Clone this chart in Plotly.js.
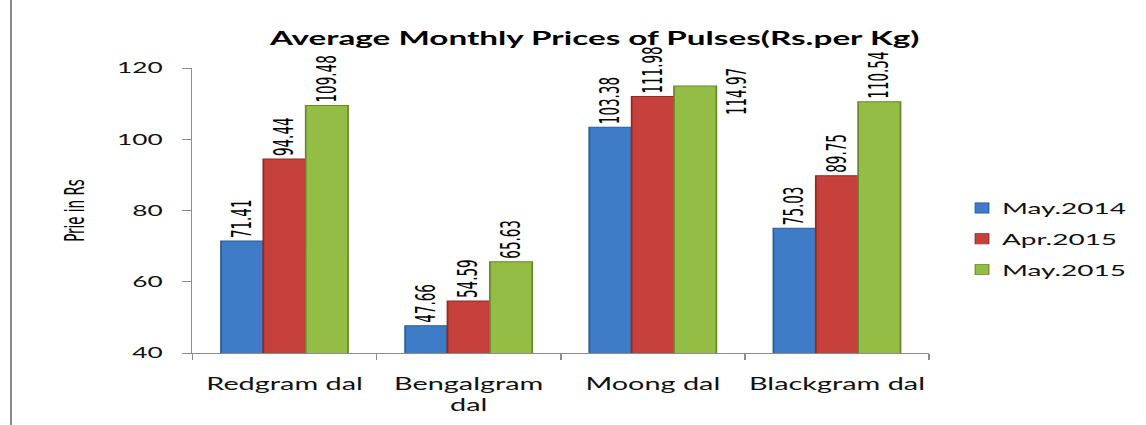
<!DOCTYPE html>
<html><head><meta charset="utf-8">
<script src="https://cdn.plot.ly/plotly-3.0.1.min.js"></script>
<style>
html,body{margin:0;padding:0;background:#fff;overflow:hidden;}
#frame{position:absolute;left:0;top:0;width:1146px;height:425px;overflow:hidden;background:#fff;}
#edge{position:absolute;left:10px;top:0;width:2px;height:425px;background:#8a8a8a;}
#chart{position:absolute;left:0;top:0;width:655px;height:425px;transform:scaleX(1.7496);transform-origin:0 0;}
#chart .legendpoints path{transform:translate(28.6px,0) scale(0.65,0.85) !important;}
</style></head>
<body><div id="frame"><div id="chart"></div><div id="edge"></div></div>
<script>
// ---- data ----
const categories = ['Redgram dal', 'Bengalgram dal', 'Moong dal', 'Blackgram dal'];
const categoryLabels = ['Redgram dal', 'Bengalgram<br>dal', 'Moong dal', 'Blackgram dal'];
const seriesNames = ['May.2014', 'Apr.2015', 'May.2015'];
const may2014 = [71.41, 47.66, 103.38, 75.03];
const apr2015 = [94.44, 54.59, 111.98, 89.75];
const may2015 = [109.48, 65.63, 114.97, 110.54];
const yTickVals = [40, 60, 80, 100, 120];
const chartTitle = 'Average Monthly Prices of Pulses(Rs.per Kg)';
const yTitle = 'Prie in Rs';
// the May.2015 Moong dal label sits detached to the right of its bar in the source
const detachedLabel = {series: 2, index: 2};

// ---- style ----
const fills = ['#3f7cc7', '#c6403c', '#93bd45'];
const edges = ['#2b5a97', '#8e2a27', '#67882d'];
const labelFont = {family: 'Liberation Sans Narrow, DejaVu Sans Condensed, sans-serif', size: 15, color: '#000'};
const mainFont = 'Lato, Open Sans, sans-serif';

const seriesValues = [may2014, apr2015, may2015];
const traces = seriesValues.map((vals, s) => ({
  type: 'bar',
  name: seriesNames[s],
  legendgroup: 'g' + s,
  x: categories,
  y: vals,
  text: vals.map((v, i) => (s === detachedLabel.series && i === detachedLabel.index) ? '' : v.toFixed(2)),
  textposition: 'outside',
  textangle: -90,
  textfont: labelFont,
  constraintext: 'none',
  cliponaxis: false,
  marker: {color: fills[s], line: {color: edges[s], width: 1}},
  hoverinfo: 'x+y+name'
}));

const dv = seriesValues[detachedLabel.series][detachedLabel.index];
const layout = {
  width: 655, height: 425,
  margin: {l: 110, r: 124, t: 68, b: 72, autoexpand: false},
  paper_bgcolor: '#fff', plot_bgcolor: '#fff',
  barmode: 'group', bargap: 0.31, bargroupgap: 0,
  font: {family: mainFont, color: '#111'},
  title: {
    text: '<b>' + chartTitle + '</b>',
    font: {family: mainFont, size: 19, color: '#000'},
    xref: 'paper', x: 0.546, xanchor: 'center',
    yref: 'container', y: 0.91, yanchor: 'middle'
  },
  xaxis: {
    type: 'category',
    tickmode: 'array', tickvals: categories, ticktext: categoryLabels,
    tickangle: 0, automargin: false,
    showline: true, linecolor: '#8c8c8c', linewidth: 1,
    ticks: 'outside', tickson: 'boundaries', ticklen: 6, tickcolor: '#8c8c8c',
    ticklabelstandoff: 16,
    tickfont: {family: mainFont, size: 16.5, color: '#111'},
    showgrid: false, zeroline: false, fixedrange: true
  },
  yaxis: {
    range: [40, 120], tickmode: 'array', tickvals: yTickVals,
    showline: true, linecolor: '#8c8c8c', linewidth: 1,
    ticks: 'outside', ticklen: 5, tickcolor: '#8c8c8c',
    ticklabelstandoff: 8,
    tickfont: {family: mainFont, size: 15, color: '#111'},
    showgrid: false, zeroline: false, fixedrange: true,
    automargin: true,
    title: {text: yTitle, font: {family: labelFont.family, size: 15, color: '#000'}, standoff: 14}
  },
  legend: {
    x: 1.004, xanchor: 'left', y: 0.4, yanchor: 'middle',
    font: {family: mainFont, size: 16, color: '#111'},
    tracegroupgap: 7, itemwidth: 30,
    bgcolor: 'rgba(0,0,0,0)'
  },
  annotations: [{
    x: categories[detachedLabel.index], y: dv, xref: 'x', yref: 'y',
    text: dv.toFixed(2), showarrow: false, textangle: -90,
    xanchor: 'center', yanchor: 'middle', xshift: 48, yshift: -6,
    font: labelFont
  }],
  showlegend: true
};

Plotly.newPlot('chart', traces, layout, {displayModeBar: false, staticPlot: true});
</script>
</body></html>
